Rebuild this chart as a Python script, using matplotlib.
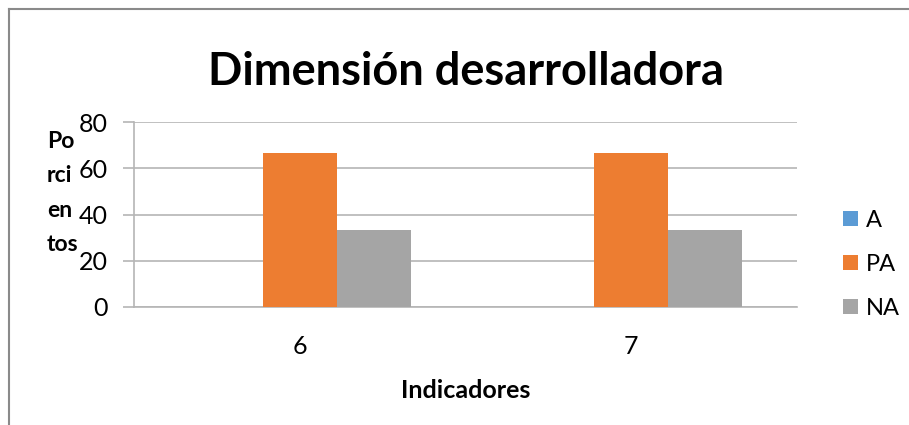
import matplotlib
matplotlib.use("Agg")
import matplotlib.pyplot as plt
from matplotlib.patches import Patch
from matplotlib.lines import Line2D
import numpy as np

plt.rcParams['font.family'] = ['Lato', 'DejaVu Sans']

categories = ["6", "7"]
series_names = ["A", "PA", "NA"]
values_A = [0, 0]
values_PA = [66.67, 66.67]
values_NA = [33.33, 33.33]
colors = ["#5B9BD5", "#ED7D31", "#A5A5A5"]
yticks = [0, 20, 40, 60, 80]
title = "Dimensión desarrolladora"
xlabel = "Indicadores"
ylabel = "Po\nrci\nen\ntos"

W, H = 909, 425
fig = plt.figure(figsize=(W / 100, H / 100), dpi=100)
ax = fig.add_axes([134 / W, 1 - 307 / H, (797 - 134) / W, (307 - 122) / H])

x = np.arange(len(categories))
bw = 0.223
series = [values_A, values_PA, values_NA]
for i, (vals, c, name) in enumerate(zip(series, colors, series_names)):
    ax.bar(x + (i - 1) * bw, vals, width=bw, color=c, label=name, zorder=3)

ax.set_xlim(-0.5, 1.5)
ax.set_ylim(0, 80)
ax.set_yticks(yticks)
ax.set_xticks(x)
ax.set_xticklabels(categories)
grid_c = "#b5b5b5"
ax.yaxis.grid(True, color=grid_c, linewidth=1.2, zorder=0)
for s in ["top", "right"]:
    ax.spines[s].set_visible(False)
ax.spines["left"].set_color(grid_c)
ax.spines["bottom"].set_color(grid_c)
ax.spines["left"].set_linewidth(1.2)
ax.spines["bottom"].set_linewidth(1.2)
ax.tick_params(axis="y", length=8, color=grid_c, width=1.2, labelsize=18, pad=11, labelcolor="#000000")
ax.tick_params(axis="x", length=0, labelsize=18, pad=20, labelcolor="#000000")

fig.text(466 / W, 1 - 72 / H, title, ha="center", va="center", fontsize=32.5, fontweight="bold")
fig.text(466 / W, 1 - 390 / H, xlabel, ha="center", va="center", fontsize=18, fontweight="bold")
fig.text(47 / W, 1 - 193 / H, ylabel, ha="left", va="center", fontsize=16.5, fontweight="bold",
         linespacing=1.8, multialignment="left")

handles = [Patch(facecolor=c, edgecolor="none") for c in colors]
fig.legend(handles, series_names, loc="upper left", bbox_to_anchor=(831 / W, 1 - 198 / H),
           frameon=False, fontsize=17, handlelength=0.63, handleheight=0.63,
           labelspacing=0.97, handletextpad=0.35, borderpad=0)

fig.add_artist(Line2D([8.5 / W, 8.5 / W], [1 - 8.5 / H, 0], transform=fig.transFigure, color="#8a8a8a", lw=1.5))
fig.add_artist(Line2D([8.5 / W, 1], [1 - 8.5 / H, 1 - 8.5 / H], transform=fig.transFigure, color="#8a8a8a", lw=1.5))

fig.savefig("out.png", dpi=100)
